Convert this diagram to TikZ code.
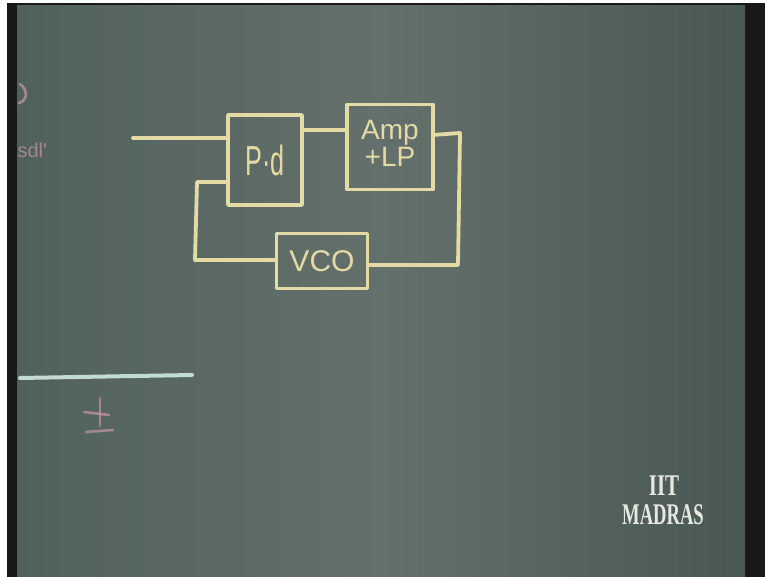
\documentclass[tikz,border=0pt]{standalone}
\usepackage{fontspec}
\setmainfont{Liberation Serif}
\newfontfamily\chalkfont{Liberation Sans}
\definecolor{chalk}{RGB}{228,218,165}
\definecolor{pinkchalk}{RGB}{200,150,168}
\definecolor{bluechalk}{RGB}{195,220,210}
\definecolor{boardL}{RGB}{80,97,92}
\definecolor{boardM}{RGB}{100,112,108}
\definecolor{boardR}{RGB}{72,88,83}
\definecolor{logo}{RGB}{232,232,226}
\tikzset{
  wire/.style={draw=chalk, line width=3.8pt, line join=round, line cap=round},
  blockbox/.style={draw=chalk, line width=3.8pt, line join=round, inner sep=0pt, text=chalk},
  pinkline/.style={draw=pinkchalk, line width=2.6pt, line cap=round, opacity=0.7},
}
\begin{document}
\begin{tikzpicture}[x=1pt,y=-1pt]
\useasboundingbox (0,0) rectangle (765,577);
% frame
\fill[white] (0,0) rectangle (765,577);
\fill[black!90] (7,3) rectangle (765,577);
\shade[left color=boardL, right color=boardR, middle color=boardM] (17,6) rectangle (745,576);
% left pink fragments
\draw[pinkline] (20,84) .. controls (28,90) and (28,100) .. (19,103);
\node[text=pinkchalk, opacity=0.7, font=\chalkfont\fontsize{20}{22}\selectfont, anchor=west] (frag) at (14,150) {sdl'};
% blue line and pink sign
\coordinate (bl1) at (20,378);
\coordinate (bl2) at (192,375);
\draw[draw=bluechalk, line width=4pt, line cap=round] (bl1) -- (bl2);
\coordinate (s1) at (100,398);
\coordinate (s2) at (100,426);
\draw[pinkline] (s1) -- (s2);
\draw[pinkline] (84,412) -- (109,415);
\draw[pinkline] (86,432) -- (113,430);
% blocks
\node[blockbox, minimum width=74pt, minimum height=90pt] (pd) at (265,160)
  {\chalkfont\fontsize{42}{44}\selectfont\scalebox{0.6}[1]{P·d}};
\node[blockbox, minimum width=86pt, minimum height=85pt] (amp) at (390,147)
  {\chalkfont\fontsize{28}{30}\selectfont\begin{tabular}{@{}c@{}}Amp\\[-3pt]+LP\end{tabular}};
\node[blockbox, minimum width=91pt, minimum height=55pt] (vco) at (322,261)
  {\chalkfont\fontsize{30}{32}\selectfont VCO};
% connectors
\coordinate (in) at (133,138);
\draw[wire] (in) -- (in -| pd.west);
\coordinate (pdo) at (302,130);
\draw[wire] (pdo) -- (pdo -| amp.west);
\coordinate (ampo) at (433,135);
\coordinate (c1) at (460,133);
\coordinate (c2) at (458,265);
\draw[wire] (ampo) -- (c1) -- (c2) -- (c2 -| vco.east);
\coordinate (c3) at (195,260);
\coordinate (c4) at (197,182);
\draw[wire] (c3 -| vco.west) -- (c3) -- (c4) -- (c4 -| pd.west);
% logo
\node[text=logo, font=\bfseries\fontsize{30}{32}\selectfont] (iit) at (664,486) {\scalebox{0.7}[1]{IIT}};
\node[text=logo, font=\bfseries\fontsize{30}{32}\selectfont] (madras) at (663,515) {\scalebox{0.62}[1]{MADRAS}};
\end{tikzpicture}
\end{document}
